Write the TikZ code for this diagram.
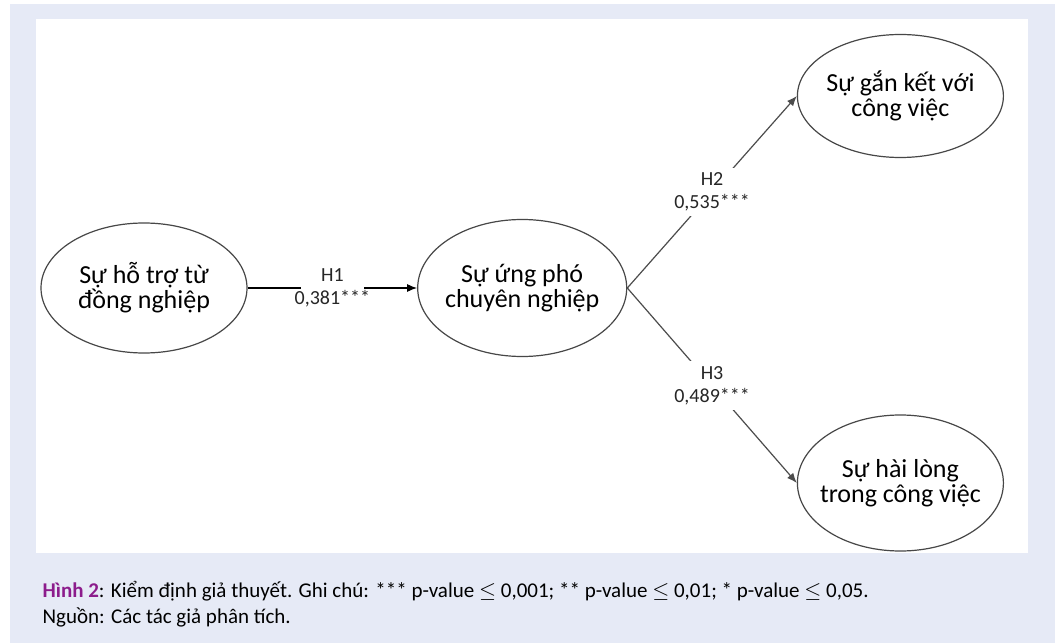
\documentclass[tikz,border=0pt]{standalone}
\usepackage{fontspec}
\setmainfont{Carlito}
\usetikzlibrary{positioning,shapes.geometric,arrows.meta}
\definecolor{panelbg}{RGB}{230,234,246}
\definecolor{figpurple}{RGB}{140,28,140}
\newcommand{\ellwidth}{103pt}
\newcommand{\ellheight}{65pt}
\newcommand{\pathgap}{84.75pt}
\tikzstyle{construct}=[fill=white,text=black,draw=black!72,shape=ellipse,
                       inner xsep=-12pt,inner ysep=0pt,align=center,
                       minimum width=\ellwidth,minimum height=\ellheight,
                       font=\fontsize{13}{12.6}\selectfont]
\tikzstyle{hyp}=[fill=white,text=black!85,draw=none,align=center,
                 inner xsep=-3pt,inner ysep=2.5pt,
                 font=\fontsize{10}{11.5}\selectfont]
\tikzstyle{capline}=[inner sep=0pt,anchor=base west,
                     font=\fontsize{10.5}{12}\selectfont]
\tikzstyle{link}=[-{Latex[length=5pt,width=4pt]}]

\begin{document}
\begin{tikzpicture}[line width=0.6pt]

\fill [white] (0,0) rectangle (529pt,321.5pt);
\useasboundingbox (0,0) rectangle (529pt,321.5pt);
\fill [panelbg] (5pt,0) rectangle (527.5pt,319.5pt);
\fill [white] (18pt,45pt) rectangle (514pt,312pt);

\node [construct] at (72pt,177.5pt) (support) {Sự hỗ trợ từ\\đồng nghiệp};
\node [construct, right= \pathgap of support, minimum width=104.5pt, minimum height=68.5pt] (coping) {Sự ứng phó\\chuyên nghiệp};
\node [construct, right= \pathgap of coping, yshift=96pt, minimum height=61.5pt] (engage) {Sự gắn kết với\\công việc};
\node [construct, right= \pathgap of coping, yshift=-97.5pt, minimum height=68pt] (satisf) {Sự hài lòng\\trong công việc};

\draw [link, black] (support) -- node[hyp] {H1\\0,381***} (coping);
\draw [link, black!70] (coping.east) -- node[hyp] {H2\\0,535***} (engage.west);
\draw [link, black!70] (coping.east) -- node[hyp] {H3\\0,489***} (satisf.west);

\node [capline] at (21pt,23pt) (cap1) {\textcolor{figpurple}{\textbf{Hình 2}}: Kiểm định giả thuyết. Ghi chú: *** p-value $\leq$ 0,001; ** p-value $\leq$ 0,01; * p-value $\leq$ 0,05.};
\node [capline] at ([yshift=-13pt]cap1.base west) (cap2) {Nguồn: Các tác giả phân tích.};
\end{tikzpicture}
\end{document}
